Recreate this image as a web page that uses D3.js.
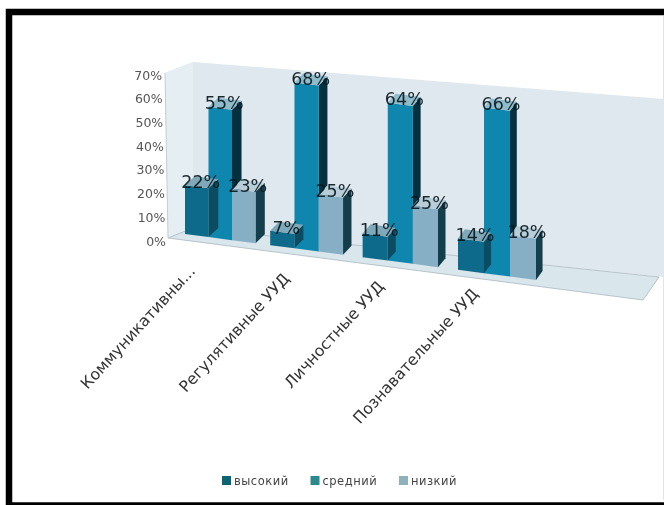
<!DOCTYPE html>
<html><head><meta charset="utf-8">
<script src="https://cdn.jsdelivr.net/npm/d3@7/dist/d3.min.js"></script>
<style>html,body{margin:0;padding:0;background:#fff}svg{display:block}text{font-family:"DejaVu Sans",sans-serif}</style>
</head><body><svg id="c" width="664" height="505"></svg>
<script>
const categories = ["Коммуникативны...", "Регулятивные УУД", "Личностные УУД", "Познавательные УУД"];
const seriesNames = ["высокий", "средний", "низкий"];
const high = [22, 7, 11, 14];
const mid = [55, 68, 64, 66];
const low = [23, 25, 25, 18];
const yTicks = [0, 10, 20, 30, 40, 50, 60, 70];
const frontColors = ["#0d6a8a", "#0f86ad", "#86afc6"];
const topColors = ["#7fa9b8", "#8fbccb", "#b7ced9"];
const sideColors = ["#0c4c62", "#05303f", "#143e4c"];
const legendColors = ["#0a6473", "#2c8a8c", "#8fb1ba"];

const svg = d3.select("#c");
const root = svg.append("g").style("filter", "blur(0.7px)");

// frame
root.append("rect").attr("x", 9).attr("y", 12).attr("width", 680).attr("height", 493.5)
  .attr("fill", "#fff").attr("stroke", "#000").attr("stroke-width", 6.5);
root.append("line").attr("x1", 663.5).attr("x2", 663.5).attr("y1", 16).attr("y2", 500).attr("stroke", "#e4e4e4");

// scales
const groupX = d3.scalePow().exponent(1.06).domain([0, 3]).range([185, 458]);
const barW = d3.scaleLinear().domain([185, 458]).range([23.5, 26]);
const pct = d3.scalePow().exponent(1.07).domain([0, 70]).range([0, 168]);
const persp = d3.scaleLinear().domain([185, 540]).range([1, 1.06]);
const base = d3.scaleLinear().domain([170, 643]).range([232, 294]);
const sideW = d3.scaleLinear().domain([185, 540]).range([10, 6.5]);
const sideRise = 9;

const pts = a => a.map(p => p.join(",")).join(" ");
// walls
root.append("polygon").attr("points", pts([[165,73],[193,62],[664,99],[664,277],[193,228],[168,238]])).attr("fill", "#dfe8ee");
root.append("polygon").attr("points", pts([[165,73],[193,62],[193,228],[168,238]])).attr("fill", "#e4eef3");
root.append("polygon").attr("points", pts([[168,238],[193,228],[659,277],[643,300]])).attr("fill", "#d9e6ec").attr("stroke", "#a9b8bf").attr("stroke-width", 0.8);
root.append("line").attr("x1", 165).attr("y1", 73).attr("x2", 168).attr("y2", 238).attr("stroke", "#c5ced3");

// y axis
const yAxisScale = d3.scaleLinear().domain([0, 70]).range([241, 75]);
const yAxis = root.append("g").attr("transform", "translate(163,0)")
  .call(d3.axisLeft(yAxisScale).tickValues(yTicks).tickFormat(d => d + "%").tickSize(0).tickPadding(0));
yAxis.select(".domain").remove();
yAxis.selectAll(".tick text").attr("font-size", 12.5).attr("fill", "#555")
  .style("font-family", '"DejaVu Sans",sans-serif')
  .attr("dx", d => 3 - d * 0.055);

// bars
const series = [high, mid, low];
categories.forEach((cat, i) => {
  const x0 = groupX(i), w = barW(x0);
  [1, 0, 2].forEach(s => {
    const v = series[s][i];
    const xl = x0 + s * w, xr = xl + w;
    const yl = base(xl), yr = base(xr);
    const h = pct(v) * persp(xl), sw = sideW(xr);
    const g = root.append("g");
    g.append("polygon").attr("points", pts([[xr, yr],[xr + sw, yr - sideRise],[xr + sw, yr - sideRise - h],[xr, yr - h]])).attr("fill", sideColors[s]);
    g.append("polygon").attr("points", pts([[xl, yl],[xr, yr],[xr, yr - h],[xl, yl - h]])).attr("fill", frontColors[s]);
    g.append("polygon").attr("points", pts([[xl, yl - h],[xr, yr - h],[xr + sw, yr - h - sideRise],[xl + sw, yl - h - sideRise]])).attr("fill", topColors[s]);
  });
});
// data labels
categories.forEach((cat, i) => {
  const x0 = groupX(i), w = barW(x0);
  series.forEach((arr, s) => {
    const xc = x0 + (s + 0.5) * w + 4;
    root.append("text").attr("x", xc).attr("y", base(xc) - pct(arr[i]) * persp(xc) + 1)
      .attr("text-anchor", "middle").attr("font-size", 17.5).attr("fill", "#0a181e").attr("fill-opacity", 0.92)
      .text(arr[i] + "%");
  });
});

// category labels
const labelX = d3.scaleLinear().domain([0, 3]).range([192, 475]);
const labelY = d3.scaleLinear().domain([0, 3]).range([268, 291]);
categories.forEach((cat, i) => {
  const x = labelX(i), y = labelY(i);
  root.append("text").attr("transform", `translate(${x},${y}) rotate(-47.5)`)
    .attr("text-anchor", "end").attr("dy", "0.35em").attr("font-size", 15.8).attr("fill", "#333").text(cat);
});

// legend
const legendX = d3.scalePoint().domain(seriesNames).range([222, 399]);
seriesNames.forEach((n, i) => {
  const x = legendX(n);
  root.append("rect").attr("x", x).attr("y", 476).attr("width", 9).attr("height", 9).attr("fill", legendColors[i]);
  root.append("text").attr("x", x + 12).attr("y", 485).attr("font-size", 11.5).attr("letter-spacing", 0.5).attr("fill", "#444").text(n);
});
</script></body></html>
